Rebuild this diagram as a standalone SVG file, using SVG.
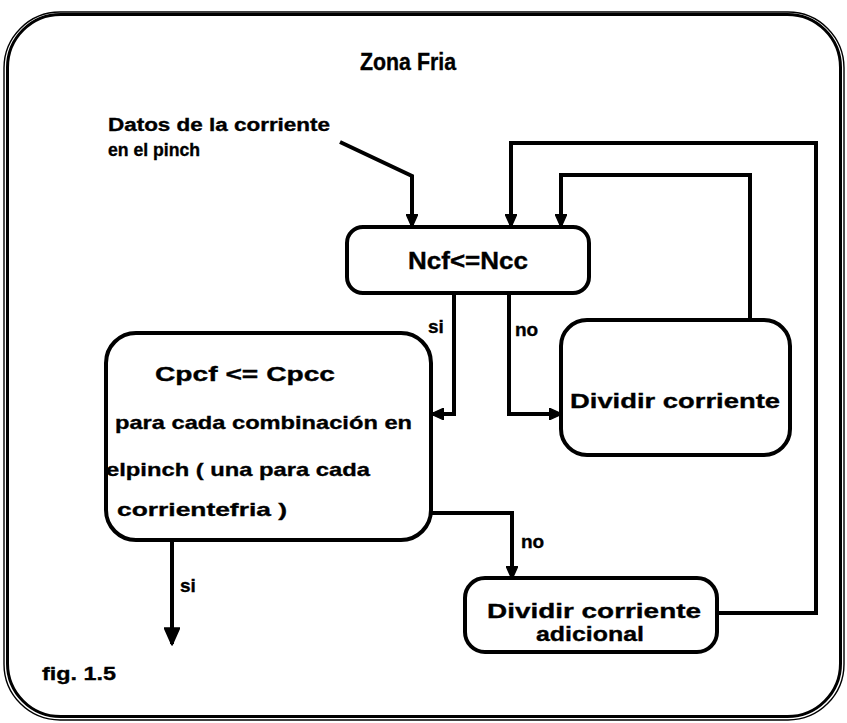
<svg xmlns="http://www.w3.org/2000/svg" width="847" height="723" viewBox="0 0 847 723">
  <defs>
    <marker id="head" viewBox="0 0 10 10" refX="9" refY="5" markerWidth="3.2" markerHeight="3.2" orient="auto" markerUnits="strokeWidth">
      <path d="M0,0.5 L10,5 L0,9.5 Z" fill="#000" stroke="#000" stroke-width="1" stroke-linejoin="round"/>
    </marker>
    <marker id="headBig" viewBox="0 0 10 10" refX="9.5" refY="5" markerWidth="4.6" markerHeight="4.2" orient="auto" markerUnits="strokeWidth">
      <path d="M0,0.5 L10,5 L0,9.5 Z" fill="#000" stroke="#000" stroke-width="1" stroke-linejoin="round"/>
    </marker>
  </defs>
  <style>
    text { font-family: "Liberation Sans", Arial, sans-serif; font-weight: bold; fill: #000; stroke: #000; stroke-width: 0.35; }
    .box { fill: #fff; stroke: #000; stroke-width: 4; }
    .wire { fill: none; stroke: #000; stroke-width: 4; stroke-linejoin: miter; }
    .frame { fill: none; stroke: #000; }
    .t23 { font-size: 23px; }
    .t21 { font-size: 21px; }
    .t19 { font-size: 19px; }
    .t18 { font-size: 18px; }
  </style>

  <rect width="847" height="723" fill="#fff"/>

  <!-- double outline frame -->
  <rect class="frame" x="4" y="12" width="840" height="708" rx="56" stroke-width="1.4"/>
  <rect class="frame" x="7.5" y="14.5" width="833" height="702" rx="53" stroke-width="3"/>

  <text class="t23" x="408" y="70" text-anchor="middle" textLength="96" lengthAdjust="spacingAndGlyphs">Zona Fria</text>
  <text class="t18" x="108" y="131" textLength="222" lengthAdjust="spacingAndGlyphs">Datos de la corriente</text>
  <text class="t18" x="108" y="156" textLength="92" lengthAdjust="spacingAndGlyphs">en el pinch</text>

  <g id="connectors">
    <!-- incoming data -->
    <path class="wire" d="M340,142 L412,176 L412,226" marker-end="url(#head)"/>
    <!-- return loop from Dividir corriente adicional -->
    <path class="wire" d="M717,613 L816,613 L816,143 L511,143 L511,226" marker-end="url(#head)"/>
    <!-- return loop from Dividir corriente -->
    <path class="wire" d="M750,320 L750,175 L561,175 L561,226" marker-end="url(#head)"/>
    <!-- si branch -->
    <path class="wire" d="M454,293 L454,414 L432,414" marker-end="url(#head)"/>
    <!-- no branch -->
    <path class="wire" d="M509,293 L509,414 L561,414" marker-end="url(#head)"/>
    <!-- no branch of Cpcf test -->
    <path class="wire" d="M431,513 L512,513 L512,578" marker-end="url(#head)"/>
    <!-- si exit -->
    <path class="wire" d="M172,540 L172,644" marker-end="url(#headBig)"/>
  </g>

  <g id="ncf">
    <rect class="box" x="347" y="227" width="242" height="66" rx="16"/>
    <text class="t23" x="468" y="269" text-anchor="middle" textLength="120" lengthAdjust="spacingAndGlyphs">Ncf&lt;=Ncc</text>
  </g>

  <g id="dividir">
    <rect class="box" x="561" y="320" width="229" height="135" rx="26"/>
    <text class="t21" x="675" y="408" text-anchor="middle" textLength="210" lengthAdjust="spacingAndGlyphs">Dividir corriente</text>
  </g>

  <g id="cpcf">
    <rect class="box" x="106" y="333" width="325" height="207" rx="30"/>
    <text class="t21" x="245" y="381" text-anchor="middle" textLength="180" lengthAdjust="spacingAndGlyphs">Cpcf &lt;= Cpcc</text>
    <text class="t19" x="115" y="429" textLength="297" lengthAdjust="spacingAndGlyphs">para cada combinación en</text>
    <text class="t19" x="106" y="476" textLength="264" lengthAdjust="spacingAndGlyphs">elpinch ( una para cada</text>
    <text class="t19" x="117" y="516" textLength="170" lengthAdjust="spacingAndGlyphs">corrientefria )</text>
  </g>

  <g id="adicional">
    <rect class="box" x="465" y="578" width="252" height="74" rx="20"/>
    <text class="t21" x="594" y="618" text-anchor="middle" textLength="214" lengthAdjust="spacingAndGlyphs">Dividir corriente</text>
    <text class="t21" x="590" y="641" text-anchor="middle" textLength="108" lengthAdjust="spacingAndGlyphs">adicional</text>
  </g>

  <g id="labels">
    <text class="t19" x="428" y="333">si</text>
    <text class="t19" x="515" y="336">no</text>
    <text class="t19" x="521" y="548">no</text>
    <text class="t19" x="180" y="592">si</text>
    <text class="t19" x="42" y="680" textLength="74" lengthAdjust="spacingAndGlyphs">fig. 1.5</text>
  </g>
</svg>
